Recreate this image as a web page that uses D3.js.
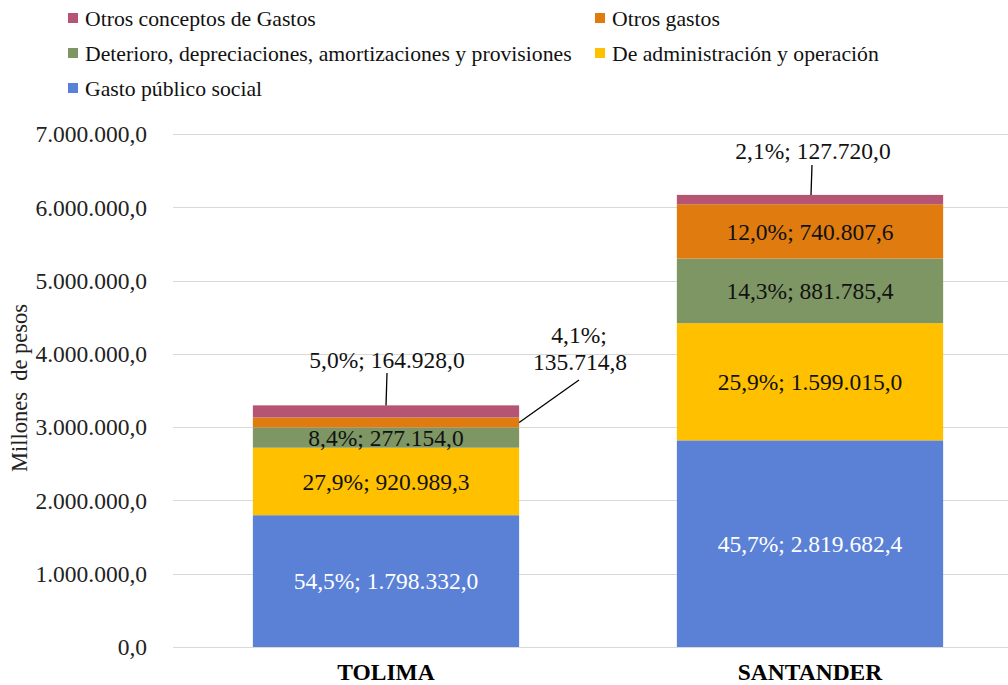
<!DOCTYPE html>
<html>
<head>
<meta charset="utf-8">
<script src="https://cdn.jsdelivr.net/npm/d3@7"></script>
<style>
  body { margin: 0; background: #fff; }
</style>
</head>
<body>
<div id="chart"></div>
<script>
var width = 1008;
var height = 685;

// categories and series (bottom to top of the stack)
var regions = ["TOLIMA", "SANTANDER"];
var seriesNames = ["Gasto público social", "De administración y operación",
  "Deterioro, depreciaciones, amortizaciones y provisiones", "Otros gastos",
  "Otros conceptos de Gastos"];
var seriesColors = ["#5A81D6", "#FFC000", "#7E9664", "#DF7B0F", "#B65474"];
var tolimaValues = [1798332.0, 920989.3, 277154.0, 135714.8, 164928.0];
var santanderValues = [2819682.4, 1599015.0, 881785.4, 740807.6, 127720.0];
var tolimaPct = ["54,5%", "27,9%", "8,4%", "4,1%", "5,0%"];
var santanderPct = ["45,7%", "25,9%", "14,3%", "12,0%", "2,1%"];
var yTicks = [0, 1000000, 2000000, 3000000, 4000000, 5000000, 6000000, 7000000];

var fontSize = 23.5;
var legendSize = 21.7;
var serif = "'Liberation Serif', Tinos, 'Times New Roman', Times, serif";

var rows = regions.map(function(r, i) {
  var vals = i == 0 ? tolimaValues : santanderValues;
  var row = {region: r};
  seriesNames.forEach(function(s, j) { row[s] = vals[j]; });
  return row;
});
var pcts = [tolimaPct, santanderPct];

var stack = d3.stack().keys(seriesNames);
var stacked = stack(rows);

var x = d3.scaleBand().domain(regions).range([174, 1022]).paddingInner(0.372).paddingOuter(0.186);
var y = d3.scaleLinear().domain([0, 7000000]).range([647, 134]);

// number format 1.234.567,8
var loc = d3.formatLocale({decimal: ",", thousands: ".", grouping: [3], currency: ["", ""]});
var fmt = loc.format(",.1f");

var svg = d3.select("#chart").append("svg")
  .attr("width", width)
  .attr("height", height)
  .style("font-family", serif);

// gridlines
svg.append("g").selectAll("line")
  .data(yTicks)
  .enter().append("line")
  .attr("x1", 173).attr("x2", width)
  .attr("y1", function(d) { return Math.round(y(d)) + 0.5; })
  .attr("y2", function(d) { return Math.round(y(d)) + 0.5; })
  .attr("stroke", "#d9d9d9")
  .attr("stroke-width", 1);

// y tick labels
svg.append("g").selectAll("text")
  .data(yTicks)
  .enter().append("text")
  .attr("x", 147)
  .attr("y", function(d) { return y(d); })
  .attr("dy", "0.35em")
  .attr("text-anchor", "end")
  .attr("font-size", fontSize)
  .attr("fill", "#222")
  .text(function(d) { return fmt(d); });

// y axis title
svg.append("text")
  .attr("transform", "translate(27," + 388 + ") rotate(-90)")
  .attr("text-anchor", "middle")
  .attr("font-size", 22.5)
  .attr("fill", "#222")
  .style("white-space", "pre")
  .text("Millones  de pesos");

// bars
var layers = svg.append("g").selectAll("g")
  .data(stacked)
  .enter().append("g")
  .attr("fill", function(d, i) { return seriesColors[i]; });

layers.selectAll("rect")
  .data(function(d) { return d; })
  .enter().append("rect")
  .attr("x", function(d) { return x(d.data.region); })
  .attr("width", x.bandwidth())
  .attr("y", function(d) { return y(d[1]); })
  .attr("height", function(d) { return y(d[0]) - y(d[1]); });

// bottom axis line redrawn over bars
svg.append("line")
  .attr("x1", 173).attr("x2", width)
  .attr("y1", 647.5).attr("y2", 647.5)
  .attr("stroke", "#d9d9d9");

// category labels
svg.append("g").selectAll("text")
  .data(regions)
  .enter().append("text")
  .attr("x", function(d) { return x(d) + x.bandwidth() / 2; })
  .attr("y", 680)
  .attr("text-anchor", "middle")
  .attr("font-size", fontSize)
  .attr("font-weight", "bold")
  .attr("fill", "#000")
  .text(function(d) { return d; });

// data labels
function lbl(si, ri) {
  return pcts[ri][si] + "; " + fmt(stacked[si][ri].data[seriesNames[si]]);
}

var inside = [];
stacked.forEach(function(layer, si) {
  layer.forEach(function(d, ri) {
    // small segments get callouts instead
    if ((ri == 0 && (si == 3 || si == 4)) || (ri == 1 && si == 4)) return;
    inside.push({si: si, ri: ri, d: d});
  });
});

svg.append("g").selectAll("text")
  .data(inside)
  .enter().append("text")
  .attr("x", function(o) { return x(regions[o.ri]) + x.bandwidth() / 2; })
  .attr("y", function(o) { return y((o.d[0] + o.d[1]) / 2); })
  .attr("dy", "0.35em")
  .attr("text-anchor", "middle")
  .attr("font-size", fontSize)
  .attr("fill", function(o) { return o.si == 0 ? "#fff" : "#111"; })
  .text(function(o) { return lbl(o.si, o.ri); });

// callouts
var cx0 = x("TOLIMA") + x.bandwidth() / 2;
var cx1 = x("SANTANDER") + x.bandwidth() / 2;
var topT = stacked[4][0];
var topS = stacked[4][1];
var orgT = stacked[3][0];

var callouts = svg.append("g");
callouts.append("line")
  .attr("x1", cx0).attr("y1", y(topT[1]))
  .attr("x2", cx0 + 1).attr("y2", 373)
  .attr("stroke", "#000").attr("stroke-width", 1.3);
callouts.append("text")
  .attr("x", cx0 + 1).attr("y", 368)
  .attr("text-anchor", "middle").attr("font-size", fontSize).attr("fill", "#111")
  .text(lbl(4, 0));

callouts.append("line")
  .attr("x1", cx1 + 1).attr("y1", y(topS[1]))
  .attr("x2", cx1 + 2).attr("y2", 165)
  .attr("stroke", "#000").attr("stroke-width", 1.3);
callouts.append("text")
  .attr("x", cx1 + 3).attr("y", 159)
  .attr("text-anchor", "middle").attr("font-size", fontSize).attr("fill", "#111")
  .text(lbl(4, 1));

var bxR = x("TOLIMA") + x.bandwidth();
callouts.append("line")
  .attr("x1", bxR).attr("y1", y((orgT[0] + orgT[1]) / 2))
  .attr("x2", 579).attr("y2", 380)
  .attr("stroke", "#000").attr("stroke-width", 1.3);
callouts.append("text")
  .attr("x", 579).attr("y", 343)
  .attr("text-anchor", "middle").attr("font-size", fontSize).attr("fill", "#111")
  .text(tolimaPct[3] + ";");
callouts.append("text")
  .attr("x", 580).attr("y", 370)
  .attr("text-anchor", "middle").attr("font-size", fontSize).attr("fill", "#111")
  .text(fmt(tolimaValues[3]));

// legend (order as in the picture)
var legendOrder = [
  {s: 4, x: 68, y: 18}, {s: 3, x: 595, y: 18},
  {s: 2, x: 68, y: 53}, {s: 1, x: 595, y: 53},
  {s: 0, x: 68, y: 88}
];
var legend = svg.append("g").selectAll("g")
  .data(legendOrder)
  .enter().append("g")
  .attr("transform", function(d) { return "translate(" + d.x + "," + d.y + ")"; });
legend.append("rect")
  .attr("x", 0).attr("y", -5)
  .attr("width", 10).attr("height", 10)
  .attr("fill", function(d) { return seriesColors[d.s]; });
legend.append("text")
  .attr("x", 17).attr("y", 0)
  .attr("dy", "0.35em")
  .attr("font-size", legendSize)
  .attr("fill", "#111")
  .text(function(d) { return seriesNames[d.s]; });
</script>
</body>
</html>
